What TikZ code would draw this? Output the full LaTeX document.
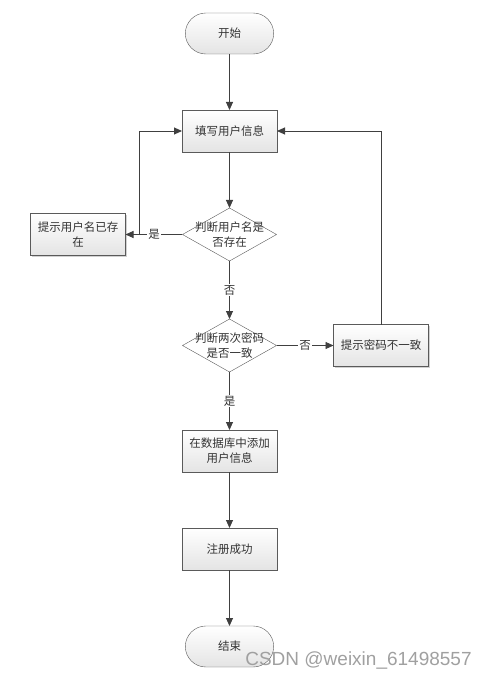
\documentclass[tikz,border=0pt]{standalone}
\usepackage{fontspec}
\newfontfamily\cjk{Noto Sans CJK SC}
\newfontfamily\marksans{Liberation Sans}
\usepackage{xcolor}
\definecolor{lineGray}{RGB}{64, 64, 64}
\definecolor{boxBorder}{RGB}{90, 90, 90}
\definecolor{boxFill}{RGB}{228, 228, 228}
\definecolor{markGray}{RGB}{160, 160, 160}
\usepackage{tikz}
\usetikzlibrary{
	positioning, arrows.meta, shapes.geometric, shapes.misc, shadows
}

\begin{document}
\begin{tikzpicture}[
		x=1pt, y=-1pt,
		font=\cjk\fontsize{11.5}{15}\selectfont, text=black!80,
		term/.style={rounded rectangle, draw=boxBorder, top color=white, bottom color=boxFill,
			minimum width=95pt, minimum height=41pt, outer sep=0pt},
		box/.style={rectangle, draw=boxBorder, top color=white, bottom color=boxFill,
			minimum width=95pt, minimum height=42pt, align=center, outer sep=0pt,
			drop shadow={shadow xshift=1.2pt, shadow yshift=-1.2pt, opacity=0.3, fill=black!60}},
		choice/.style={diamond, draw=boxBorder, fill=white, minimum width=94pt,
			minimum height=53pt, inner sep=0pt, outer sep=0pt},
		arr/.style={-{Triangle[length=8pt, width=7pt]}, lineGray, line width=0.9pt},
		tag/.style={fill=white, inner sep=1pt, text=black!80},
		wmark/.style={font=\marksans\fontsize{19}{22}\selectfont, text=markGray}
		]
		\useasboundingbox (0,0) rectangle (489,679);

		\node[term] (start) at (229.5,33.5) {开始};
		\node[box, below=56pt of start] (fill) {填写用户信息};
		\node[choice, below=56pt of fill,
		label={[align=center]center:判断用户名是\\否存在}] (name) {};
		\node[box, left=57pt of name] (exists) {提示用户名已存\\在};
		\node[choice, below=58pt of name,
		label={[align=center]center:判断两次密码\\是否一致}] (pwd) {};
		\node[box, right=57pt of pwd] (differ) {提示密码不一致};
		\node[box, below=58pt of pwd] (save) {在数据库中添加\\用户信息};
		\node[box, below=56pt of save] (done) {注册成功};
		\node[term, below=56pt of done] (stop) {结束};
		\node[wmark] (watermark) at (358.5,660) {CSDN @weixin\_61498557};

		\draw[arr] (start) -- (fill);
		\draw[arr] (fill)  -- (name);
		\draw[arr] (name)  -- node[tag] {是} (exists);
		\draw[arr] (exists.east) -- ++(14,0) |- (fill);
		\draw[arr] (name)  -- node[tag] {否} (pwd);
		\draw[arr] (pwd)   -- node[tag] {否} (differ);
		\draw[arr] (differ) |- (fill);
		\draw[arr] (pwd)   -- node[tag] {是} (save);
		\draw[arr] (save)  -- (done);
		\draw[arr] (done)  -- (stop);
	\end{tikzpicture}
\end{document}
